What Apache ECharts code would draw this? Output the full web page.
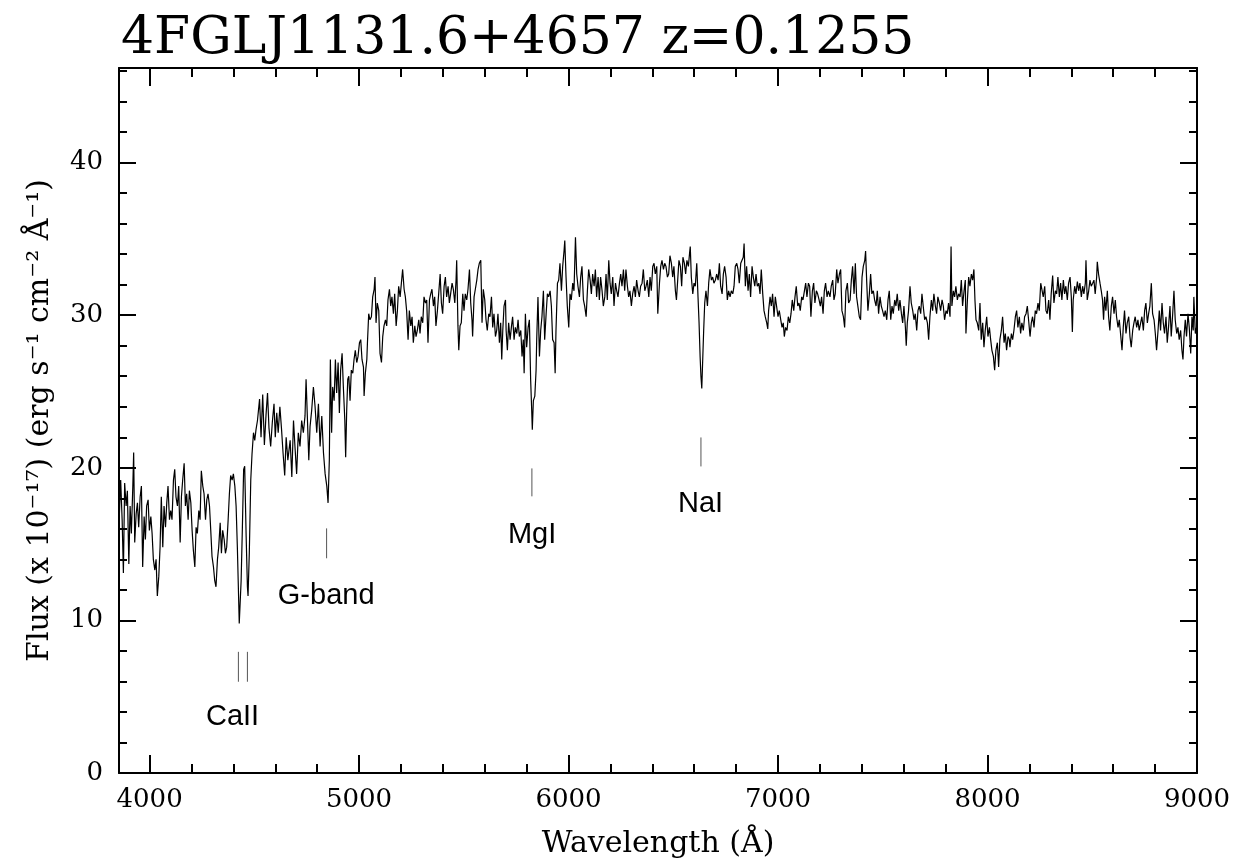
<!DOCTYPE html>
<html>
<head>
<meta charset="utf-8">
<script src="https://cdn.jsdelivr.net/npm/echarts@6/dist/echarts.min.js"></script>
<style>
html,body{margin:0;padding:0;background:#fff;}
#chart{width:1245px;height:859px;}
</style>
</head>
<body>
<div id="chart"></div>
<script>
// ---- data: [wavelength (Å), flux (1e-17 erg s-1 cm-2 Å-1)] ----
const spectrum = [
[3856,17.0],[3862,19.2],[3869,16.6],[3875,13.1],[3881,19.0],[3888,17.5],[3894,18.5],[3901,13.7],[3907,17.5],[3913,15.7],
[3920,18.8],[3924,21.0],[3929,15.1],[3936,17.0],[3942,17.7],[3948,16.1],[3955,18.1],[3961,18.8],[3967,13.5],[3974,16.8],
[3980,15.3],[3986,17.5],[3993,17.9],[3999,15.9],[4006,16.8],[4012,15.7],[4018,14.0],[4025,13.3],[4031,14.0],[4037,11.6],
[4044,12.9],[4050,14.8],[4056,18.1],[4063,14.8],[4069,17.5],[4076,16.1],[4082,17.7],[4088,18.8],[4095,16.6],[4101,17.2],
[4107,16.6],[4114,19.2],[4120,19.9],[4126,18.1],[4133,17.5],[4139,18.8],[4146,15.1],[4152,18.1],[4158,19.2],[4165,20.3],
[4171,17.5],[4177,18.3],[4184,16.6],[4190,18.5],[4197,17.7],[4203,15.9],[4209,14.6],[4216,13.5],[4222,16.1],[4228,15.7],
[4235,17.2],[4241,16.6],[4247,19.8],[4254,18.8],[4260,18.3],[4267,16.6],[4273,17.9],[4279,18.3],[4286,17.5],[4292,15.9],
[4298,14.2],[4305,13.5],[4311,12.6],[4317,12.2],[4324,14.0],[4330,14.8],[4337,16.4],[4343,14.4],[4349,15.9],[4356,15.3],
[4362,14.4],[4368,14.8],[4375,16.6],[4381,18.3],[4387,19.5],[4394,19.2],[4400,19.6],[4407,18.8],[4413,17.5],[4419,14.8],
[4423,12.6],[4428,9.8],[4437,12.6],[4443,16.1],[4449,19.9],[4454,20.1],[4461,15.5],[4467,12.2],[4470,11.6],[4476,14.4],
[4483,19.2],[4489,20.9],[4496,22.3],[4502,21.8],[4508,22.5],[4515,23.1],[4525,24.5],[4532,22.0],[4540,24.8],[4548,21.5],
[4556,23.5],[4563,24.9],[4570,22.6],[4578,21.4],[4586,23.0],[4594,24.2],[4600,22.0],[4607,23.6],[4614,22.3],[4622,24.0],
[4630,22.5],[4637,21.0],[4645,19.5],[4652,22.0],[4660,20.5],
[4671,21.8],[4679,19.4],[4687,23.1],[4694,21.4],[4702,19.6],[4710,22.3],[4718,21.4],[4726,23.1],[4734,22.3],[4742,23.4],
[4747,25.8],[4753,23.4],[4760,20.5],[4766,22.7],[4774,23.8],[4782,25.3],[4790,24.0],[4798,22.3],[4806,24.2],[4814,21.4],
[4822,23.4],[4830,21.0],[4838,19.6],[4846,18.8],[4852,17.7],[4858,20.5],[4863,27.1],[4869,22.3],[4874,25.3],[4881,24.4],
[4887,27.1],[4893,24.9],[4900,26.9],[4906,23.6],[4912,26.4],[4919,27.5],[4925,25.3],[4932,23.1],[4936,20.7],[4941,23.8],
[4946,25.8],[4951,26.0],[4957,24.4],[4963,26.4],[4970,26.2],[4976,27.1],[4982,27.7],[4989,26.9],[4995,27.3],[5002,28.2],
[5008,28.4],[5014,27.1],[5021,26.6],[5024,24.7],[5030,26.2],[5037,27.1],[5040,28.2],[5046,30.1],[5052,29.7],[5059,29.9],
[5065,31.2],[5072,31.7],[5076,32.5],[5081,29.5],[5087,30.8],[5094,30.3],[5100,27.5],[5107,26.9],[5113,28.6],[5119,29.3],
[5126,29.7],[5132,29.3],[5138,31.0],[5145,31.7],[5151,30.6],[5157,31.2],[5164,30.1],[5170,31.4],[5177,29.3],[5183,30.3],
[5189,31.9],[5196,31.2],[5202,32.1],[5208,33.0],[5215,31.7],[5221,31.2],[5227,30.3],[5234,28.4],[5240,30.3],[5247,29.3],
[5253,29.9],[5259,28.2],[5266,29.3],[5272,28.6],[5278,29.0],[5285,29.7],[5291,28.8],[5297,29.9],[5304,29.5],[5310,31.2],
[5317,30.8],[5323,31.0],[5329,28.2],[5336,31.0],[5342,31.4],[5348,31.7],[5355,30.6],[5361,31.2],[5367,29.3],[5374,30.3],
[5380,31.4],[5387,32.7],[5393,30.8],[5399,30.1],[5406,31.9],[5412,32.5],[5418,31.2],[5425,31.9],[5431,30.8],[5437,31.4],
[5444,32.1],[5450,31.7],[5457,30.8],[5463,32.3],[5466,33.6],[5472,29.3],[5476,27.7],[5482,29.3],[5488,29.5],[5495,31.4],
[5501,30.3],[5507,31.4],[5514,31.0],[5520,31.7],[5527,33.0],[5533,30.8],[5539,29.7],[5542,28.6],[5549,31.2],[5555,31.7],
[5562,32.3],[5568,33.0],[5574,33.4],[5581,33.6],[5587,29.5],[5593,31.7],[5600,31.0],[5606,29.7],[5612,29.0],[5619,30.1],
[5625,29.9],[5632,31.2],[5638,29.2],[5644,30.1],[5651,28.6],[5657,29.0],[5663,30.1],[5670,28.2],[5676,29.5],[5681,27.1],
[5686,29.0],[5692,30.6],[5699,31.0],[5702,29.0],[5708,27.7],[5714,29.5],[5721,28.4],[5727,29.2],[5733,29.9],[5740,28.4],
[5746,29.2],[5753,28.8],[5759,29.7],[5765,28.6],[5772,29.0],[5778,27.3],[5784,28.4],[5788,26.2],[5794,30.1],[5800,27.9],
[5807,29.2],[5813,29.7],[5819,25.8],[5824,23.8],[5827,22.5],[5832,24.4],[5839,24.7],[5845,26.4],[5848,28.4],[5854,31.2],
[5861,27.3],[5867,29.0],[5873,29.9],[5880,31.6],[5886,28.4],[5893,30.1],[5899,31.4],[5905,31.2],[5912,31.6],[5918,30.6],
[5924,28.4],[5931,28.2],[5936,26.2],[5940,29.0],[5947,32.1],[5953,32.3],[5959,33.4],[5966,31.6],[5972,33.2],[5979,34.3],
[5982,34.9],[5988,32.5],[5994,30.6],[6001,29.2],[6007,31.4],[6013,31.0],[6020,32.1],[6026,31.6],[6033,35.1],[6039,32.7],
[6045,31.9],[6052,31.2],[6058,32.5],[6064,33.2],[6071,31.0],[6077,30.6],[6084,29.9],[6090,31.6],[6096,33.0],[6103,32.3],
[6109,31.4],[6115,32.7],[6122,31.9],[6128,33.0],[6134,31.2],[6141,32.5],[6147,31.0],[6153,32.5],[6160,31.6],[6166,30.6],
[6173,31.2],[6179,32.7],[6185,31.0],[6192,33.6],[6198,32.1],[6204,31.4],[6211,32.5],[6217,30.6],[6224,32.1],[6230,31.6],
[6236,31.2],[6243,32.1],[6249,32.7],[6255,31.9],[6262,33.0],[6268,31.6],[6274,33.0],[6281,31.9],[6287,31.2],[6293,31.6],
[6300,30.6],[6306,31.4],[6313,31.9],[6319,31.2],[6325,32.3],[6332,31.6],[6338,31.2],[6344,31.9],[6351,32.1],[6357,33.0],
[6364,31.6],[6370,31.9],[6376,32.3],[6383,31.2],[6389,32.5],[6395,31.6],[6402,33.2],[6408,33.4],[6414,32.7],[6421,33.2],
[6426,30.1],[6434,32.1],[6440,33.2],[6446,33.6],[6453,33.0],[6459,33.4],[6465,33.2],[6472,32.5],[6478,32.7],
[6484,33.9],[6491,33.4],[6497,32.5],[6503,33.2],[6510,31.6],[6515,31.0],[6521,32.3],[6527,33.6],[6534,33.2],[6540,31.9],
[6546,33.8],[6553,33.4],[6559,32.7],[6565,33.6],[6572,33.2],[6578,34.1],[6581,34.5],[6586,32.5],[6593,31.4],[6599,32.1],
[6605,31.9],[6612,33.4],[6618,31.2],[6623,29.5],[6628,27.3],[6632,26.0],[6636,25.2],[6640,26.9],[6645,29.0],[6650,30.8],
[6656,31.6],[6663,30.6],[6669,32.1],[6675,33.0],[6682,32.3],[6688,32.5],[6694,32.1],[6701,32.3],[6707,32.7],[6714,32.3],
[6720,33.4],[6726,31.9],[6733,31.4],[6739,32.7],[6745,33.2],[6752,32.5],[6758,31.0],[6764,31.6],[6771,31.2],[6777,31.6],
[6784,31.4],[6790,31.9],[6796,33.2],[6803,33.4],[6809,33.0],[6815,32.1],[6822,33.4],[6828,33.6],[6834,33.8],[6838,34.7],
[6844,31.9],[6850,33.2],[6857,31.6],[6863,32.7],[6869,31.2],[6876,33.2],[6882,32.5],[6889,31.9],[6895,32.7],[6901,31.9],
[6908,32.1],[6914,31.4],[6920,33.0],[6927,31.4],[6933,30.3],[6939,29.9],[6946,29.5],[6951,29.1],[6955,30.3],[6962,31.2],
[6968,30.6],[6974,31.4],[6981,29.9],[6987,31.2],[6993,30.6],[7000,29.9],[7006,30.3],[7013,29.7],[7019,29.2],[7025,29.5],
[7030,28.6],[7036,29.2],[7043,29.0],[7049,29.9],[7056,29.5],[7062,30.1],[7068,31.0],[7075,30.3],[7081,31.2],[7087,31.9],
[7094,30.6],[7100,30.8],[7106,30.3],[7113,31.2],[7119,31.0],[7126,31.6],[7132,32.1],[7138,31.2],[7145,32.1],[7151,31.9],
[7157,29.9],[7164,31.6],[7170,32.1],[7176,30.8],[7183,31.6],[7189,31.4],[7196,31.0],[7202,30.6],[7208,31.2],[7215,30.1],
[7221,31.6],[7227,32.1],[7234,31.2],[7240,31.6],[7248,31.2],
[7254,31.9],[7261,32.3],[7267,31.0],[7273,31.4],[7280,33.0],[7286,32.1],[7293,32.7],[7299,33.0],[7305,30.3],[7312,29.9],
[7318,29.2],[7324,31.6],[7331,32.1],[7337,30.8],[7344,31.0],[7350,32.3],[7356,33.2],[7363,31.4],[7369,33.4],[7375,31.2],
[7382,31.2],[7388,29.9],[7394,29.7],[7401,32.5],[7407,33.2],[7414,33.6],[7418,34.2],[7423,32.3],[7429,30.3],[7436,31.4],
[7442,32.7],[7448,31.4],[7455,31.6],[7461,31.0],[7468,30.6],[7474,31.6],[7480,30.1],[7487,31.2],[7493,30.6],[7499,30.3],
[7506,29.9],[7512,30.3],[7519,29.7],[7525,31.0],[7531,31.6],[7538,29.7],[7544,30.6],[7550,30.1],[7557,31.0],[7563,30.6],
[7569,31.4],[7576,30.3],[7582,31.0],[7589,30.1],[7595,29.5],[7601,30.6],[7608,29.2],[7612,28.0],[7617,29.5],[7623,30.3],
[7630,31.9],[7636,30.8],[7643,30.3],[7649,29.7],[7655,30.1],[7662,29.0],[7668,30.3],[7674,30.6],[7681,30.1],[7687,31.4],
[7693,30.6],[7700,29.7],[7706,29.9],[7713,29.5],[7719,28.4],[7725,29.9],[7732,31.0],[7738,30.3],[7744,31.4],[7751,30.6],
[7757,30.1],[7763,31.2],[7770,30.8],[7776,30.3],[7783,31.0],[7789,30.6],[7795,29.7],[7802,30.3],[7808,30.1],[7814,30.8],
[7821,29.9],[7826,34.5],[7830,30.6],[7837,31.6],[7843,31.2],[7849,31.9],[7856,31.0],[7862,31.4],[7869,31.2],[7875,32.3],
[7881,30.6],[7888,31.6],[7894,32.3],[7897,28.8],[7904,31.0],[7910,32.5],[7916,31.9],[7923,32.7],[7929,32.3],[7935,33.0],
[7940,31.0],[7945,29.7],[7951,29.5],[7958,29.0],[7964,30.8],[7970,28.4],[7977,29.5],[7983,27.9],[7989,29.0],[7996,29.9],
[8002,28.6],[8009,29.2],[8015,28.4],[8021,27.7],[8028,27.3],[8034,26.4],[8040,27.7],[8047,28.2],[8053,26.6],[8059,28.4],
[8066,29.0],[8072,29.9],[8079,28.2],[8085,28.8],[8091,27.7],[8098,28.6],[8104,28.4],
[8107,27.9],[8114,28.8],[8120,28.4],[8126,29.0],[8133,29.9],[8139,30.3],[8145,29.2],[8152,29.9],[8158,28.8],[8164,29.5],
[8171,29.0],[8177,29.9],[8184,30.1],[8190,30.6],[8196,29.7],[8203,28.6],[8209,29.5],[8215,29.9],[8222,29.2],[8228,30.3],
[8234,30.1],[8241,30.8],[8247,30.3],[8254,32.1],[8260,32.1],[8266,31.2],[8273,31.9],[8279,30.3],[8285,30.1],[8292,31.0],
[8298,29.7],[8304,31.4],[8311,32.6],[8317,30.8],[8324,31.6],[8330,31.4],[8336,32.5],[8343,31.2],[8349,32.1],[8355,31.0],
[8362,32.3],[8368,31.4],[8374,31.9],[8381,31.0],[8387,32.1],[8394,32.5],[8400,31.2],[8405,28.9],[8409,31.0],[8416,31.9],
[8422,31.4],[8429,32.2],[8435,31.6],[8441,32.1],[8448,31.2],[8454,31.9],[8460,31.4],[8467,32.1],[8470,33.6],[8476,31.0],
[8483,31.6],[8489,32.3],[8495,31.9],[8502,32.1],[8508,32.3],[8514,31.4],[8521,32.5],[8524,33.5],[8530,32.7],[8537,32.1],
[8543,31.6],[8549,31.0],[8554,29.7],[8559,31.2],[8565,30.3],[8572,31.6],[8578,29.9],[8584,29.0],[8591,30.6],[8597,31.2],
[8604,30.1],[8610,31.0],[8616,29.9],[8623,29.2],[8629,29.7],[8635,28.8],[8642,27.7],[8648,29.2],[8654,30.3],[8661,28.8],
[8667,29.5],[8674,29.9],[8680,28.6],[8686,27.9],[8693,29.0],[8699,29.5],[8705,29.9],[8712,29.2],[8718,29.7],[8724,29.0],
[8731,29.5],[8737,29.9],[8744,29.0],[8750,30.3],[8756,30.8],[8763,29.5],[8769,30.1],[8775,30.6],[8782,32.1],[8788,30.1],
[8795,29.7],[8801,28.8],[8807,27.7],[8814,29.0],[8820,30.3],[8826,29.0],[8833,30.8],[8839,29.5],[8845,28.8],[8852,29.9],
[8858,28.2],[8864,29.2],[8871,30.6],[8877,28.6],[8884,30.1],[8890,31.6],[8896,29.7],[8903,28.8],[8909,29.2],[8915,28.4],
[8922,29.0],[8928,27.7],[8933,27.1],[8938,28.6],[8944,29.7],[8950,28.6],[8957,30.1],[8963,29.2],[8970,27.5],[8976,29.9],
[8982,29.0],[8985,31.2],[8992,28.8],[8998,29.2]
];

// absorption-line identification marks
const markWave   = [4424, 4467, 4845, 5825, 6632];
const markTop    = [7.94, 7.94, 16.03, 19.96, 21.99];
const markBottom = [5.98, 5.98, 14.07, 18.13, 20.09];
const lineNames     = ['CaII', 'G-band', 'MgI', 'NaI'];
const lineLabelWave = [4396, 4843, 5826, 6630];
const lineLabelFlux = [3.67, 11.58, 15.58, 17.6];

// axes
const xMajorTicks = [4000, 5000, 6000, 7000, 8000, 9000];
const xMinorTicks = [4000,4200,4400,4600,4800,5000,5200,5400,5600,5800,6000,6200,6400,6600,6800,7000,7200,7400,7600,7800,8000,8200,8400,8600,8800,9000];
const yMajorTicks = [0, 10, 20, 30, 40];
const yMinorTicks = [0,2,4,6,8,10,12,14,16,18,20,22,24,26,28,30,32,34,36,38,40,42,44,46];
const xMin = 3854, xMax = 9000, yMin = 0, yMax = 46.2;

const titleText = '4FGLJ1131.6+4657 z=0.1255';
const xName = 'Wavelength (Å)';
const yName = 'Flux (x 10⁻¹⁷) (erg s⁻¹ cm⁻² Å⁻¹)';

const SERIF = "'DejaVu Serif', 'Liberation Serif', serif";
const SANS = "'Liberation Sans', Arial, Helvetica, sans-serif";

function xAx(pos, major, withLabel) {
  return {
    type: 'value', position: pos, min: xMin, max: xMax, gridIndex: 0,
    axisLine: { show: major, onZero: false, lineStyle: { color: '#000', width: 2 } },
    axisTick: { show: true, inside: true, length: major ? 18 : 9,
                customValues: major ? xMajorTicks : xMinorTicks,
                lineStyle: { color: '#000', width: 2 } },
    axisLabel: withLabel ? { show: true, customValues: xMajorTicks, color: '#000',
                formatter: v => String(v),
                fontFamily: SERIF, fontSize: 26, margin: 14 } : { show: false },
    splitLine: { show: false },
    name: withLabel ? xName : '',
    nameLocation: 'middle', nameGap: 56,
    nameTextStyle: { fontFamily: SERIF, fontSize: 30, color: '#000' }
  };
}
function yAx(pos, major, withLabel) {
  return {
    type: 'value', position: pos, min: yMin, max: yMax, gridIndex: 0,
    axisLine: { show: major, onZero: false, lineStyle: { color: '#000', width: 2 } },
    axisTick: { show: true, inside: true, length: major ? 17 : 8,
                customValues: major ? yMajorTicks : yMinorTicks,
                lineStyle: { color: '#000', width: 2 } },
    axisLabel: withLabel ? { show: true, customValues: yMajorTicks, color: '#000',
                formatter: v => String(v),
                fontFamily: SERIF, fontSize: 26, margin: 16 } : { show: false },
    splitLine: { show: false },
    name: withLabel ? yName : '',
    nameLocation: 'middle', nameGap: 64, nameRotate: 90,
    nameTextStyle: { fontFamily: SERIF, fontSize: 30, color: '#000' }
  };
}

const series = [{
  type: 'line', xAxisIndex: 0, yAxisIndex: 0,
  data: spectrum, showSymbol: false, symbol: 'none',
  lineStyle: { color: '#000', width: 1.2 }, silent: true, animation: false, z: 5
}];
markWave.forEach((w, i) => {
  series.push({
    type: 'line', xAxisIndex: 0, yAxisIndex: 0,
    data: [[w, markTop[i]], [w, markBottom[i]]],
    showSymbol: false, symbol: 'none',
    lineStyle: { color: '#555', width: 1 }, silent: true, animation: false
  });
});
series.push({
  type: 'scatter', xAxisIndex: 0, yAxisIndex: 0, symbolSize: 0, silent: true, animation: false,
  itemStyle: { color: '#000', opacity: 1 },
  data: lineNames.map((n, i) => ({ name: n, value: [lineLabelWave[i], lineLabelFlux[i]] })),
  label: { show: true, position: 'inside', formatter: p => p.name,
           fontFamily: SANS, fontSize: 29, color: '#000', textBorderWidth: 0, opacity: 1 }
});

const chart = echarts.init(document.getElementById('chart'), null, { renderer: 'canvas' });
chart.setOption({
  backgroundColor: '#fff',
  animation: false,
  title: { text: titleText, left: 116, top: 8,
           textStyle: { fontFamily: SERIF, fontSize: 52, fontWeight: 'normal', color: '#000' } },
  grid: { left: 119, right: 48, top: 68, bottom: 86, containLabel: false, outerBoundsMode: 'none' },
  xAxis: [ xAx('bottom', true, true), xAx('bottom', false, false), xAx('top', true, false), xAx('top', false, false) ],
  yAxis: [ yAx('left', true, true), yAx('left', false, false), yAx('right', true, false), yAx('right', false, false) ],
  series: series
});
</script>
</body>
</html>
